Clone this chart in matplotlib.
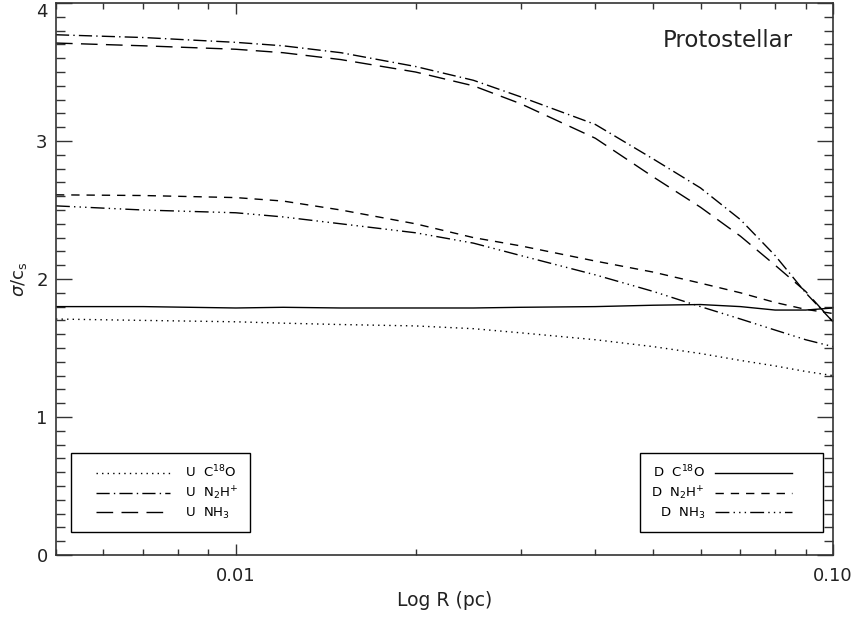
import matplotlib
matplotlib.use("Agg")
import numpy as np
import matplotlib.pyplot as plt
from matplotlib.ticker import FixedLocator, NullFormatter, FixedFormatter, MultipleLocator
from matplotlib.legend_handler import HandlerLine2D

# Radius grid (pc)
radius = [0.005, 0.007, 0.01, 0.012, 0.015, 0.02, 0.025, 0.03, 0.04, 0.05,
          0.06, 0.07, 0.08, 0.09, 0.1]

u_c18o = [1.71, 1.70, 1.69, 1.68, 1.67, 1.66, 1.64, 1.61, 1.56, 1.51,
          1.46, 1.41, 1.37, 1.33, 1.30]
u_n2h = [3.77, 3.75, 3.715, 3.69, 3.64, 3.54, 3.44, 3.32, 3.12, 2.87,
         2.66, 2.43, 2.17, 1.90, 1.69]
u_nh3 = [3.71, 3.69, 3.665, 3.64, 3.59, 3.50, 3.40, 3.27, 3.02, 2.74,
         2.52, 2.31, 2.10, 1.91, 1.69]
d_c18o = [1.80, 1.80, 1.79, 1.795, 1.79, 1.79, 1.79, 1.795, 1.80, 1.81,
          1.815, 1.80, 1.775, 1.775, 1.79]
d_n2h = [2.61, 2.605, 2.59, 2.565, 2.50, 2.40, 2.30, 2.24, 2.13, 2.05,
         1.97, 1.90, 1.83, 1.78, 1.75]
d_nh3 = [2.53, 2.50, 2.48, 2.45, 2.40, 2.335, 2.26, 2.17, 2.03, 1.91,
         1.80, 1.71, 1.63, 1.56, 1.51]

x_ticks = [0.01, 0.1]
x_ticklabels = ['0.01', '0.10']
u_labels = [r"U  C$^{\mathregular{18}}$O", r"U  N$_{\mathregular{2}}$H$^{+}$", r"U  NH$_{\mathregular{3}}$"]
d_labels = [r"D  C$^{\mathregular{18}}$O", r"D  N$_{\mathregular{2}}$H$^{+}$", r"D  NH$_{\mathregular{3}}$"]

plt.rcParams['font.family'] = ['DejaVu Sans']
plt.rcParams['mathtext.fontset'] = 'dejavusans'


class PadHandler(HandlerLine2D):
    """Legend line handle with extra blank space on the left / right."""
    def __init__(self, lpad=0.0, rpad=0.0, **kw):
        super().__init__(**kw)
        self.lpad = lpad
        self.rpad = rpad

    def get_xdata(self, legend, xdescent, ydescent, width, height, fontsize):
        xd = np.array([-xdescent + self.lpad, -xdescent + width - self.rpad])
        return xd, xd


fig = plt.figure(figsize=(8.57, 6.17), dpi=100)
ax = fig.add_axes([0.0653, 0.1005, 0.9067, 0.8946])

lw = 1.0
st_dot = (0, (1, 3))
st_dashdot = (0, (9.5, 3, 1, 3))
st_longdash = (0, (12, 6))
st_dash = (0, (6, 5))
st_dash3dot = (0, (10, 3, 1, 3, 1, 3, 1, 3))

l1, = ax.plot(radius, u_c18o, color='black', lw=lw, linestyle=st_dot)
l2, = ax.plot(radius, u_n2h, color='black', lw=lw, linestyle=st_dashdot)
l3, = ax.plot(radius, u_nh3, color='black', lw=lw, linestyle=st_longdash)
l4, = ax.plot(radius, d_c18o, color='black', lw=lw, linestyle='-')
l5, = ax.plot(radius, d_n2h, color='black', lw=lw, linestyle=st_dash)
l6, = ax.plot(radius, d_nh3, color='black', lw=lw, linestyle=st_dash3dot)

ax.set_xscale('log')
ax.set_xlim(0.005, 0.1)
ax.set_ylim(0, 4)

ax.xaxis.set_major_locator(FixedLocator(x_ticks))
ax.xaxis.set_major_formatter(FixedFormatter(x_ticklabels))
minors = [0.005, 0.006, 0.007, 0.008, 0.009, 0.02, 0.03, 0.04, 0.05, 0.06, 0.07, 0.08, 0.09]
ax.xaxis.set_minor_locator(FixedLocator(minors))
ax.xaxis.set_minor_formatter(NullFormatter())
ax.yaxis.set_major_locator(MultipleLocator(1))
ax.yaxis.set_minor_locator(MultipleLocator(0.1))

ax.tick_params(axis='both', which='both', direction='in', top=True, right=True,
               color='#333333', labelsize=13, labelcolor='#222222')
ax.tick_params(axis='y', which='major', length=11.5, width=1.0, pad=6)
ax.tick_params(axis='y', which='minor', length=6.5, width=1.0)
ax.tick_params(axis='x', which='major', length=8, width=1.0, pad=9)
ax.tick_params(axis='x', which='minor', length=4.3, width=1.0)
for s in ax.spines.values():
    s.set_linewidth(1.2)
    s.set_color('#333333')

fig.canvas.draw()
for lab in ax.get_yticklabels():
    if lab.get_text() == '4':
        lab.set_verticalalignment('top')

ax.set_xlabel('Log R (pc)', fontsize=13.5, labelpad=4, color='#222222')
ax.set_ylabel(r'$\sigma$/c$_{\mathregular{s}}$', fontsize=13, labelpad=5, color='#222222')

ax.text(0.9485, 0.933, 'Protostellar', transform=ax.transAxes, ha='right', va='center',
        fontsize=16.5, color='#222222')

fs = 9.5
fpx = fs * 100 / 72.0
leg1 = ax.legend([l1, l2, l3], u_labels, loc='lower left',
                 bbox_to_anchor=(0.0193, 0.0417), borderaxespad=0, fontsize=fs,
                 handlelength=88 / fpx, handletextpad=15 / fpx, borderpad=0.85,
                 fancybox=False, edgecolor='black', framealpha=1, labelspacing=0.3,
                 handler_map={l: PadHandler(lpad=10) for l in (l1, l2, l3)})
leg1.get_frame().set_linewidth(1.0)
ax.add_artist(leg1)
leg2 = ax.legend([l4, l5, l6], d_labels, loc='lower right',
                 bbox_to_anchor=(0.9871, 0.0417), borderaxespad=0, fontsize=fs,
                 handlelength=97 / fpx, handletextpad=10 / fpx, borderpad=0.85,
                 fancybox=False, edgecolor='black', framealpha=1, labelspacing=0.3,
                 markerfirst=False,
                 handler_map={l: PadHandler(rpad=14) for l in (l4, l5, l6)})
leg2.get_frame().set_linewidth(1.0)

fig.savefig('out.png', dpi=100)
